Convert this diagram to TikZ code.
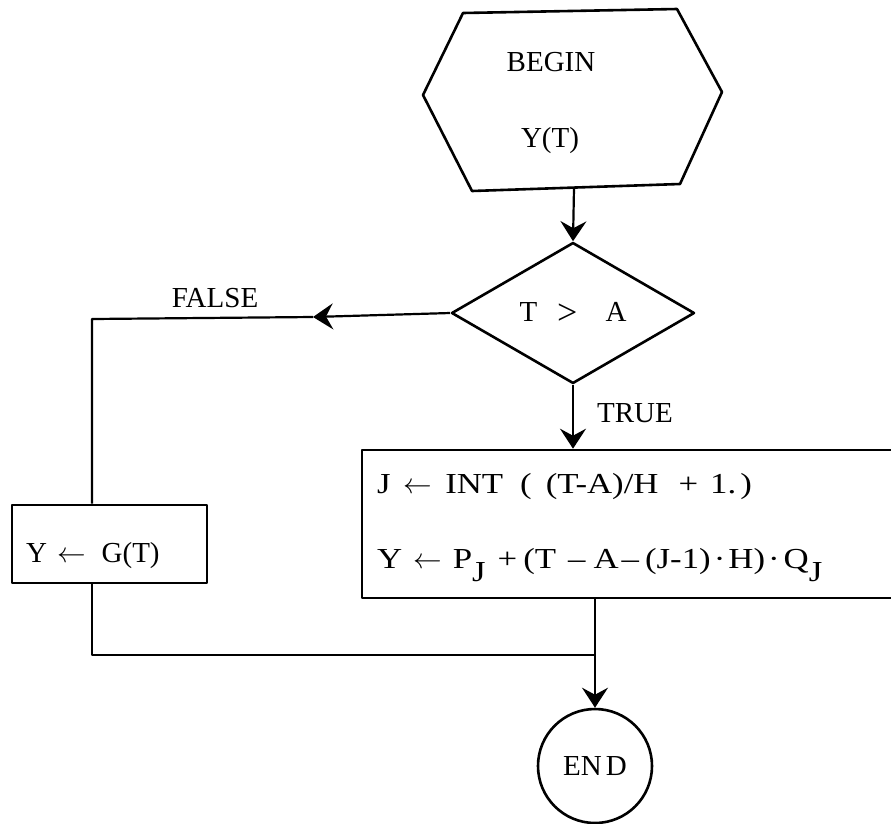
\documentclass[tikz,border=0pt]{standalone}
\usepackage{fontspec}
\setmainfont{Liberation Serif}
\newfontfamily\widefont[FakeStretch=1.2]{Liberation Serif}
\usetikzlibrary{arrows.meta,shapes.geometric}
\newcommand{\asgn}{\scalebox{1.15}{$\leftarrow$}}
\begin{document}
\begin{tikzpicture}[x=1pt,y=-1pt,line width=2.2pt,line join=round,
  every node/.style={font=\fontsize{29}{34}\selectfont,inner sep=0pt},
  arr/.style={-{Stealth[length=20pt,width=26pt,inset=7pt]}},
  shapeline/.style={draw,line width=2.6pt},
  txt/.style={anchor=base west}]
\useasboundingbox (0,0) rectangle (891,823);
% hexagon (BEGIN)
\coordinate (h1) at (463,13);
\coordinate (h2) at (677,9);
\coordinate (h3) at (722,92);
\coordinate (h4) at (680,184);
\coordinate (h5) at (472,191);
\coordinate (h6) at (423,95);
\draw[shapeline] (h1) -- (h2) -- (h3) -- (h4) -- (h5) -- (h6) -- cycle;
\coordinate (hexbot) at (574,188);
\node (begin) at (551,62) {BEGIN};
\node (yt) at (550,141) {Y(T)};
% decision
\node[diamond,shapeline,minimum width=243pt,minimum height=141pt] (d) at (573,313)
  {T\hspace{20pt}\raisebox{-3pt}{\fontsize{36}{40}\selectfont >}\hspace{28pt}A};
% boxes
\node[rectangle,shapeline,minimum width=195pt,minimum height=78pt] (gbox) at (109.5,544) {};
\node[txt] (gtext) at (25,562) {Y\hspace{10pt}\asgn\hspace{16pt}G(T)};
\node[rectangle,shapeline,minimum width=543pt,minimum height=148pt] (bigbox) at (633.5,524) {};
\node[txt] (l1) at (376,493) {\widefont J\hspace{13pt}\asgn\hspace{13pt}INT\hspace{17pt}(\hspace{14pt}(T-A)/H\hspace{20pt}+\hspace{12pt}1.\hspace{4pt})};
\node[txt] (l2) at (376,568) {\widefont Y\hspace{11pt}\asgn\hspace{11pt}P\raisebox{-13pt}{J}\hspace{12pt}+\hspace{6pt}(T\hspace{12pt}–\hspace{8pt}A\hspace{3pt}–\hspace{6pt}(J-1)\hspace{3pt}·\hspace{3pt}H)\hspace{3pt}·\hspace{4pt}Q\raisebox{-13pt}{J}};
% end
\node[circle,shapeline,minimum size=114pt] (endc) at (595,766) {EN\hspace{4pt}D};
% labels
\node (false) at (215,298) {FALSE};
\node (true) at (635,413) {TRUE};
% connectors
\coordinate (fmid) at (313,317);
\coordinate (fcorner) at (92,319);
\coordinate (merge) at (595,655);
\draw[arr] (hexbot) -- (d.north);
\draw[arr] (d.west) -- (fmid);
\draw (fmid) -- (fcorner) -- (fcorner |- gbox.north);
\draw[arr] (d.south) -- (d.south |- bigbox.north);
\draw[arr] (bigbox.south -| merge) -- (endc.north);
\draw (gbox.south -| fcorner) -- (fcorner |- merge) -- (merge);
\end{tikzpicture}
\end{document}
